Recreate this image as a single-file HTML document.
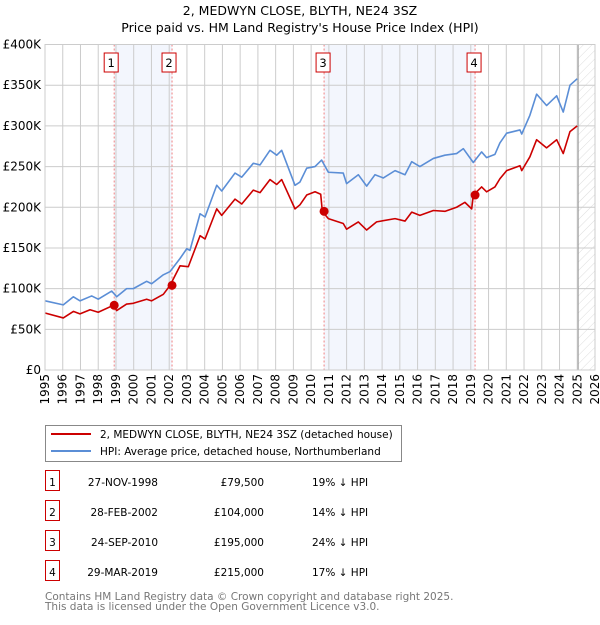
<!DOCTYPE html>
<html><head><meta charset="utf-8"><style>
body{margin:0;background:#fff;font-family:"Liberation Sans","DejaVu Sans",sans-serif;}
svg text{font-family:"DejaVu Sans","Liberation Sans",sans-serif;}
</style></head><body>
<svg id="c" width="600" height="620"></svg>
<script>
const yTicks=[0,50000,100000,150000,200000,250000,300000,350000,400000];
const yTickLabels=["£0","£50K","£100K","£150K","£200K","£250K","£300K","£350K","£400K"];
const xYears=[1995,1996,1997,1998,1999,2000,2001,2002,2003,2004,2005,2006,2007,2008,2009,2010,2011,2012,2013,2014,2015,2016,2017,2018,2019,2020,2021,2022,2023,2024,2025,2026];
const hpiYears=[1995.0,1996.03,1996.6,1996.97,1997.63,1998.0,1998.76,1999.04,1999.6,1999.98,2000.73,2001.01,2001.67,2002.05,2002.61,2002.99,2003.17,2003.74,2004.02,2004.68,2004.96,2005.71,2006.09,2006.74,2007.12,2007.68,2008.06,2008.34,2009.09,2009.37,2009.75,2010.22,2010.59,2010.97,2011.81,2012.0,2012.66,2013.13,2013.6,2014.07,2014.73,2015.29,2015.67,2016.13,2016.89,2017.54,2018.2,2018.58,2019.14,2019.61,2019.89,2020.36,2020.64,2021.02,2021.77,2021.87,2022.33,2022.71,2023.27,2023.84,2024.21,2024.59,2025.0];
const hpiValues=[85000,80000,90000,85000,91000,87000,97000,90000,100000,100000,109000,106000,117000,121000,137000,149000,147000,192000,188000,227000,220000,242000,237000,254000,252000,270000,264000,270000,227000,231000,248000,250000,258000,243000,242000,229000,240000,226000,240000,236000,245000,240000,256000,250000,260000,264000,266000,272000,255000,268000,261000,265000,279000,291000,295000,290000,313000,339000,325000,337000,317000,350000,358000];
const redYears=[1995.0,1996.03,1996.6,1996.97,1997.54,1998.0,1998.85,1999.04,1999.6,1999.98,2000.73,2001.01,2001.67,2002.05,2002.61,2003.08,2003.74,2004.02,2004.68,2004.96,2005.71,2006.09,2006.74,2007.12,2007.68,2008.06,2008.34,2009.09,2009.37,2009.75,2010.22,2010.54,2010.63,2010.97,2011.81,2012.0,2012.66,2013.13,2013.69,2014.73,2015.29,2015.67,2016.13,2016.89,2017.54,2018.2,2018.67,2019.05,2019.14,2019.61,2019.89,2020.36,2020.64,2021.02,2021.77,2021.87,2022.33,2022.71,2023.27,2023.84,2024.21,2024.59,2025.0];
const redValues=[70000,64000,72000,69000,74000,71000,79500,73000,81000,82000,87000,85000,93000,104000,128000,127000,165000,161000,198000,190000,210000,204000,221000,218000,234000,228000,234000,198000,203000,215000,219000,216000,195000,186000,180000,173000,182000,172000,182000,186000,183000,194000,190000,196000,195000,200000,206000,198000,215000,225000,219000,225000,235000,245000,251000,245000,262000,283000,273000,283000,266000,293000,300000];
const saleYears=[1998.9,2002.16,2010.73,2019.24];
const salePrices=[79500,104000,195000,215000];
const saleLabels=["1","2","3","4"];
const saleDates=["27-NOV-1998","28-FEB-2002","24-SEP-2010","29-MAR-2019"];
const salePriceText=["£79,500","£104,000","£195,000","£215,000"];
const saleHpiText=["19% ↓ HPI","14% ↓ HPI","24% ↓ HPI","17% ↓ HPI"];

const L=45,R=595,T=44.5,B=370;
const X=y=>L+(y-1995)/(2026-1995)*(R-L);
const Y=v=>B-v/400000*(B-T);
const svg=document.getElementById('c');
const NS='http://www.w3.org/2000/svg';
function mk(tag,attrs,parent){const e=document.createElementNS(NS,tag);for(const k in attrs)e.setAttribute(k,attrs[k]);(parent||svg).appendChild(e);return e;}
const defs=mk('defs',{});
const pat=mk('pattern',{id:'hatch',width:6,height:6,patternUnits:'userSpaceOnUse',patternTransform:'rotate(45)'},defs);
mk('line',{x1:0,y1:0,x2:0,y2:6,stroke:'#ddd','stroke-width':1},pat);

let t=mk('text',{x:300,y:15,'text-anchor':'middle','font-size':12.5});t.textContent='2, MEDWYN CLOSE, BLYTH, NE24 3SZ';


t=mk('text',{x:300,y:32,'text-anchor':'middle','font-size':12.5});t.textContent="Price paid vs. HM Land Registry's House Price Index (HPI)";



for(let i=0;i<saleYears.length;i+=2){
  const r=mk('rect',{x:X(saleYears[i]),y:T,width:X(saleYears[i+1])-X(saleYears[i]),height:B-T,fill:'#f3f6fd'});
  
  
}
const h=mk('rect',{x:X(2025.05),y:T,width:R-X(2025.05),height:B-T,fill:'url(#hatch)'});



yTicks.forEach((v,i)=>{
  mk('line',{x1:L,x2:R,y1:Y(v),y2:Y(v),stroke:'#ccc','stroke-width':1});
  const tt=mk('text',{x:L-4,y:Y(v)+4,'text-anchor':'end','font-size':12});tt.textContent=yTickLabels[i];
  
  
});
xYears.forEach(yr=>{
  mk('line',{x1:X(yr),x2:X(yr),y1:T,y2:B,stroke:'#ccc','stroke-width':1});
  const tt=mk('text',{x:0,y:0,'text-anchor':'end','font-size':12,transform:`translate(${X(yr)+4},${B+4}) rotate(-90)`});tt.textContent=yr;
  
  
});
mk('line',{x1:X(2025.05),x2:X(2025.05),y1:T,y2:B,stroke:'#999','stroke-width':1});

saleYears.forEach((yr,i)=>{
  mk('line',{x1:X(yr),x2:X(yr),y1:T,y2:B,stroke:'#f08080','stroke-width':1,'stroke-dasharray':'2,2'});
  const g=mk('g',{});
  
  
  mk('rect',{x:X(yr)-8-(i<2?2:0),y:53,width:14,height:19,fill:'#fff',stroke:'#c00'},g);
  const tt=mk('text',{x:X(yr)-1-(i<2?2:0),y:67,'text-anchor':'middle','font-size':11.5},g);tt.textContent=saleLabels[i];
});

function line(xs,vs,color,name){
  const p=mk('polyline',{points:xs.map((x,i)=>X(x)+','+Y(vs[i])).join(' '),fill:'none',stroke:color,'stroke-width':1.6,'stroke-linejoin':'round'});
  
  
}
line(hpiYears,hpiValues,'#5b8ed6','hpi-line');
line(redYears,redValues,'#cc0000','price-paid-line');
saleYears.forEach((yr,i)=>{
  const c=mk('circle',{cx:X(yr),cy:Y(salePrices[i]),r:4.5,fill:'#cc0000'});
  
  
});
mk('rect',{x:L,y:T,width:R-L,height:B-T,fill:'none',stroke:'#ccc'});

const lg=mk('g',{});


mk('rect',{x:45.5,y:425.5,width:356,height:36,fill:'#fff',stroke:'#888'},lg);
mk('line',{x1:51,x2:91,y1:434,y2:434,stroke:'#cc0000','stroke-width':2},lg);
mk('line',{x1:51,x2:91,y1:451,y2:451,stroke:'#5b8ed6','stroke-width':2},lg);
t=mk('text',{x:100,y:438,'font-size':10.5},lg);t.textContent='2, MEDWYN CLOSE, BLYTH, NE24 3SZ (detached house)';
t=mk('text',{x:100,y:455,'font-size':10.5},lg);t.textContent='HPI: Average price, detached house, Northumberland';

saleYears.forEach((yr,i)=>{
  const y=483+i*30;
  const g=mk('g',{});
  
  
  mk('rect',{x:45.5,y:y-12.5,width:14,height:20,fill:'#fff',stroke:'#c00'},g);
  let a=mk('text',{x:52.5,y:y+3,'text-anchor':'middle','font-size':10.5},g);a.textContent=saleLabels[i];
  a=mk('text',{x:158,y:y+3,'text-anchor':'end','font-size':10.5},g);a.textContent=saleDates[i];
  a=mk('text',{x:264,y:y+3,'text-anchor':'end','font-size':10.5},g);a.textContent=salePriceText[i];
  a=mk('text',{x:312,y:y+3,'font-size':10.5},g);a.textContent=saleHpiText[i];
});
t=mk('text',{x:45,y:600,'font-size':10.5,fill:'#777'});t.textContent='Contains HM Land Registry data © Crown copyright and database right 2025.';


t=mk('text',{x:45,y:610,'font-size':10.5,fill:'#777'});t.textContent='This data is licensed under the Open Government Licence v3.0.';


</script>
</body></html>
